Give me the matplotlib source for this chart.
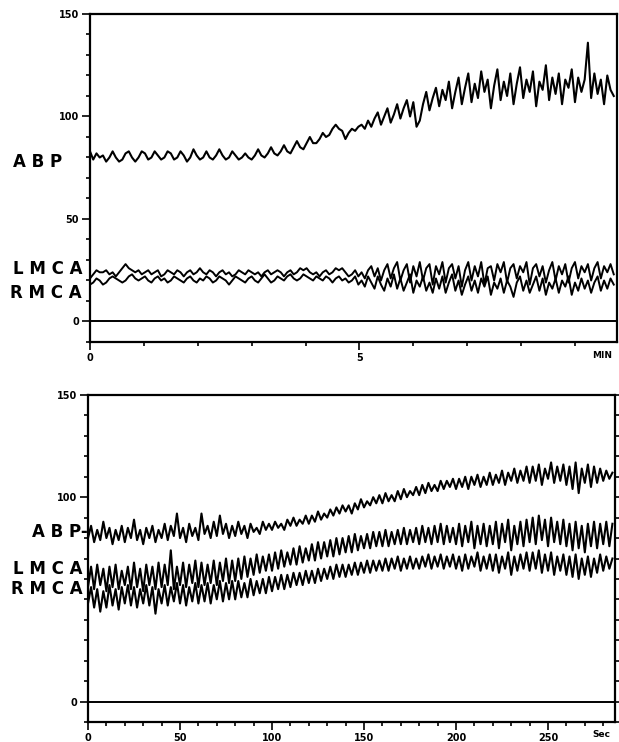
import numpy as np
import matplotlib
matplotlib.use('Agg')
import matplotlib.pyplot as plt
import matplotlib.transforms as mtrans
from matplotlib.ticker import MultipleLocator

ABP_TOP = [83, 79, 82, 80, 81, 78, 80, 83, 80, 78, 79, 82,
           83, 80, 78, 80, 83, 82, 79, 80, 83, 81, 79, 80,
           83, 82, 79, 80, 83, 81, 78, 80, 84, 81, 79, 80,
           83, 80, 79, 81, 84, 81, 79, 80, 83, 81, 79, 80,
           82, 80, 79, 81, 84, 81, 80, 82, 85, 82, 81, 83,
           86, 83, 82, 85, 88, 85, 84, 87, 90, 87, 87, 89,
           92, 90, 91, 94, 96, 94, 93, 89, 92, 94, 93, 95,
           96, 94, 98, 95, 99, 102, 96, 100, 104, 97, 101, 106,
           99, 104, 108, 100, 107, 95, 98, 106, 112, 103, 109, 114,
           105, 113, 108, 117, 104, 112, 119, 106, 114, 121, 107, 116,
           109, 122, 112, 118, 104, 115, 123, 108, 117, 110, 121, 106,
           116, 124, 109, 118, 112, 122, 105, 117, 113, 125, 108, 119,
           111, 121, 106, 118, 114, 123, 107, 119, 112, 118, 136, 109,
           121, 111, 118, 106, 120, 113, 110]
LMCA_TOP = [21, 23, 25, 24, 24, 25, 23, 24, 22, 24, 26, 28,
            26, 25, 24, 25, 23, 24, 25, 23, 24, 25, 22, 23,
            25, 24, 23, 25, 24, 22, 24, 25, 23, 24, 26, 24,
            23, 25, 24, 22, 24, 25, 23, 24, 22, 23, 25, 24,
            23, 25, 24, 23, 24, 22, 24, 25, 23, 24, 25, 24,
            22, 24, 25, 23, 24, 26, 25, 26, 24, 23, 24, 22,
            24, 25, 23, 24, 26, 25, 26, 24, 22, 23, 25, 22,
            24, 21, 25, 27, 22, 26, 20, 25, 28, 21, 26, 29,
            20, 25, 28, 19, 27, 22, 29, 20, 26, 28, 18, 27,
            23, 29, 19, 26, 28, 21, 27, 17, 25, 29, 20, 27,
            22, 29, 18, 26, 27, 20, 28, 24, 29, 19, 26, 28,
            21, 27, 24, 29, 18, 26, 28, 22, 27, 19, 25, 29,
            20, 27, 23, 28, 19, 26, 29, 21, 27, 24, 28, 20,
            26, 29, 21, 27, 24, 28, 23]
RMCA_TOP = [18, 19, 21, 20, 18, 19, 21, 22, 21, 20, 19, 20,
            22, 23, 21, 20, 21, 22, 20, 19, 21, 22, 20, 21,
            19, 20, 22, 21, 20, 19, 21, 22, 20, 19, 21, 20,
            22, 21, 19, 20, 22, 21, 20, 18, 20, 22, 21, 20,
            19, 21, 22, 20, 19, 21, 23, 21, 19, 20, 22, 21,
            20, 22, 23, 21, 20, 21, 23, 22, 21, 20, 22, 21,
            20, 22, 21, 19, 21, 22, 20, 21, 19, 20, 22, 18,
            20, 17, 22, 19, 16, 22, 18, 15, 21, 17, 23, 16,
            21, 15, 19, 23, 14, 20, 17, 22, 15, 19, 14, 21,
            16, 22, 14, 19, 23, 15, 20, 13, 18, 22, 15, 20,
            14, 21, 17, 22, 13, 19, 16, 21, 14, 20, 17, 12,
            19, 22, 15, 20, 14, 18, 22, 15, 21, 13, 19, 16,
            21, 14, 20, 17, 22, 13, 19, 15, 21, 16, 20, 14,
            19, 22, 15, 20, 16, 21, 18]

# bottom record: seconds, peak / trough values of each beat
ABP_BOT = [80, 86, 78, 84, 79, 88, 80, 85, 77, 84, 79, 86,
           78, 85, 80, 89, 79, 84, 77, 85, 80, 86, 78, 84,
           80, 87, 79, 86, 81, 92, 80, 85, 78, 87, 81, 85,
           79, 92, 82, 86, 80, 88, 81, 91, 82, 87, 80, 86,
           81, 88, 82, 86, 80, 87, 83, 85, 82, 88, 84, 87,
           84, 88, 85, 87, 84, 89, 86, 90, 86, 89, 87, 91,
           87, 91, 88, 93, 89, 92, 90, 94, 91, 95, 92, 96,
           93, 96, 92, 97, 94, 99, 95, 98, 96, 100, 97, 101,
           97, 102, 98, 101, 98, 103, 99, 104, 100, 103, 101, 105,
           101, 106, 102, 107, 103, 106, 103, 108, 104, 108, 105, 109,
           104, 109, 105, 110, 104, 110, 106, 111, 105, 110, 106, 112,
           106, 111, 107, 113, 106, 112, 108, 114, 107, 113, 108, 115,
           107, 115, 108, 116, 106, 114, 109, 117, 107, 115, 108, 116,
           106, 115, 104, 117, 102, 114, 107, 116, 105, 115, 107, 114,
           108, 113, 109, 112]
LMCA_BOT = [56, 66, 55, 67, 57, 65, 54, 66, 56, 67, 55, 64,
            57, 66, 55, 68, 56, 65, 54, 67, 57, 66, 55, 68,
            56, 67, 57, 74, 55, 66, 57, 68, 56, 67, 58, 69,
            56, 68, 57, 67, 58, 69, 57, 68, 59, 70, 58, 69,
            59, 70, 60, 71, 61, 70, 62, 72, 63, 71, 64, 72,
            64, 73, 65, 74, 66, 73, 67, 75, 67, 76, 68, 75,
            69, 77, 69, 78, 70, 78, 71, 79, 71, 80, 72, 80,
            73, 81, 73, 82, 74, 81, 75, 82, 75, 83, 76, 83,
            76, 84, 76, 83, 77, 84, 77, 85, 77, 84, 78, 85,
            77, 86, 78, 85, 77, 86, 78, 87, 77, 86, 78, 85,
            77, 87, 76, 86, 78, 88, 75, 86, 77, 87, 76, 86,
            77, 88, 75, 87, 78, 89, 74, 86, 77, 88, 76, 89,
            78, 90, 77, 91, 79, 89, 76, 90, 78, 88, 77, 89,
            76, 87, 74, 88, 75, 86, 73, 87, 76, 88, 75, 87,
            77, 88, 76, 87]
RMCA_BOT = [48, 56, 46, 55, 44, 54, 46, 57, 47, 55, 45, 56,
            48, 57, 47, 56, 46, 55, 48, 57, 47, 56, 43, 55,
            48, 57, 47, 56, 49, 58, 48, 57, 47, 56, 49, 58,
            48, 57, 49, 58, 48, 57, 50, 59, 49, 58, 50, 59,
            50, 59, 51, 58, 51, 60, 52, 59, 53, 60, 53, 61,
            54, 61, 55, 62, 55, 62, 56, 63, 57, 63, 57, 64,
            58, 64, 58, 65, 59, 65, 60, 66, 60, 67, 61, 67,
            61, 67, 62, 68, 62, 68, 63, 69, 63, 69, 64, 69,
            64, 70, 64, 70, 65, 71, 64, 70, 65, 71, 65, 70,
            65, 71, 66, 72, 65, 71, 66, 72, 65, 71, 66, 72,
            65, 71, 64, 72, 65, 71, 66, 73, 64, 71, 65, 72,
            64, 72, 63, 71, 65, 73, 62, 71, 64, 72, 65, 73,
            64, 73, 65, 74, 63, 72, 64, 73, 62, 71, 64, 72,
            62, 71, 61, 72, 60, 70, 62, 71, 61, 70, 63, 72,
            64, 71, 65, 70]

TOP_END_MIN = 9.72
BOT_END_SEC = 285
TOP_Y_TICKS = [0, 50, 100, 150]
BOT_Y_TICKS = [0, 100, 150]

plt.rcParams['font.family'] = ['DejaVu Sans']
plt.rcParams['font.weight'] = 'bold'

W, H = 619, 742
fig = plt.figure(figsize=(W / 100, H / 100), dpi=100)
fig.patch.set_facecolor('white')


def frame(ax, xlim, yticks):
    ax.set_xlim(*xlim)
    ax.set_ylim(-10, 150)
    for s in ax.spines.values():
        s.set_linewidth(1.6)
    ax.set_yticks(yticks)
    ax.set_yticklabels([str(v) for v in yticks])
    ax.yaxis.set_minor_locator(MultipleLocator(10))
    ax.tick_params(which='both', direction='out', width=1.2, labelsize=7, pad=2)
    ax.tick_params(which='major', length=6)
    ax.tick_params(which='minor', length=3)
    ax.axhline(0, color='black', lw=1.4)


def label(ax, x, y, text, size=12):
    tr = mtrans.blended_transform_factory(ax.transAxes, ax.transData)
    ax.text(x, y, text, transform=tr, ha='right', va='center',
            fontsize=size, fontweight='bold', clip_on=False)


# top panel
ax1 = fig.add_axes([90 / W, 1 - 342 / H, 527 / W, 328 / H])
frame(ax1, (0, 9.78), TOP_Y_TICKS)
ax1.plot(np.linspace(0, TOP_END_MIN, len(ABP_TOP)), ABP_TOP, color='black', lw=1.5)
ax1.plot(np.linspace(0, TOP_END_MIN, len(LMCA_TOP)), LMCA_TOP, color='black', lw=1.4)
ax1.plot(np.linspace(0, TOP_END_MIN, len(RMCA_TOP)), RMCA_TOP, color='black', lw=1.4)
ax1.set_xticks([0, 5])
ax1.set_xticklabels(['0', '5'])
ax1.xaxis.set_minor_locator(MultipleLocator(1))
ax1.text(9.5, -16.5, 'MIN', ha='center', va='center', fontsize=6.5, fontweight='bold')
label(ax1, -0.053, 78, 'A B P')
label(ax1, -0.015, 25.5, 'L M C A')
label(ax1, -0.015, 14, 'R M C A')

# bottom panel
ax2 = fig.add_axes([88 / W, 1 - 722 / H, 527 / W, 327 / H])
frame(ax2, (0, 286.4), BOT_Y_TICKS)
ax2.plot(np.linspace(0, BOT_END_SEC, len(ABP_BOT)), ABP_BOT, color='black', lw=1.5)
ax2.plot(np.linspace(0, BOT_END_SEC, len(LMCA_BOT)), LMCA_BOT, color='black', lw=1.5)
ax2.plot(np.linspace(0, BOT_END_SEC, len(RMCA_BOT)), RMCA_BOT, color='black', lw=1.5)
ax2.set_xticks([0, 50, 100, 150, 200, 250])
ax2.xaxis.set_minor_locator(MultipleLocator(10))
ax2.tick_params(axis='y', which='both', right=True, labelright=False)
ax2.text(279, -16, 'Sec', ha='center', va='center', fontsize=6.5, fontweight='bold')
label(ax2, -0.0, 83, 'A B P-')
label(ax2, -0.011, 65, 'L M C A')
label(ax2, -0.011, 55, 'R M C A')

fig.savefig('out.png', dpi=100)
